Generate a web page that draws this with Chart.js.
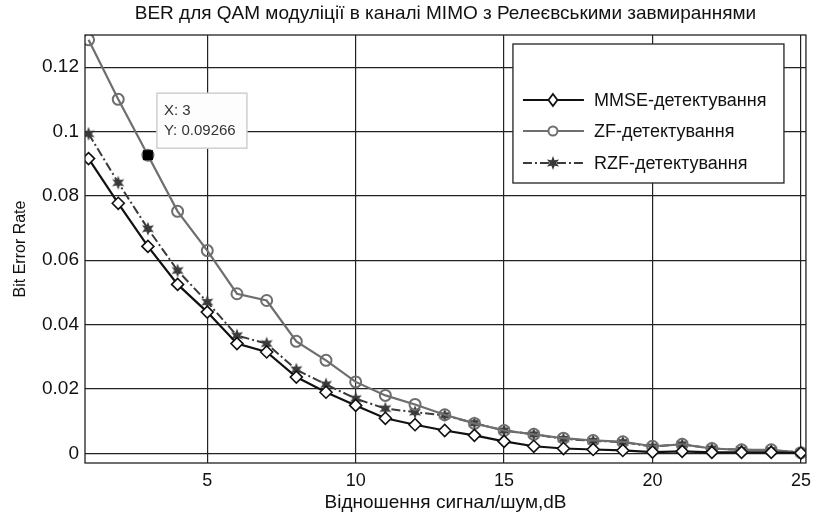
<!DOCTYPE html>
<html>
<head>
<meta charset="utf-8">
<script src="https://cdn.jsdelivr.net/npm/chart.js@4.4.1/dist/chart.umd.min.js"></script>
<style>
  html, body { margin: 0; padding: 0; background: #ffffff; }
  #wrap { width: 818px; height: 519px; }
</style>
</head>
<body>
<div id="wrap"><canvas id="c" width="818" height="519"></canvas></div>
<script>
// ---- data ----
const snrDb = [1,2,3,4,5,6,7,8,9,10,11,12,13,14,15,16,17,18,19,20,21,22,23,24,25];
const berMMSE = [0.0916,0.0777,0.0643,0.0525,0.0439,0.0341,0.0315,0.0237,0.0190,0.0149,0.0109,0.0089,0.0071,0.0056,0.0037,0.0022,0.0015,0.0012,0.0009,0.0004,0.0006,0.0003,0.0003,0.0003,0.0001];
const berZF   = [0.1285,0.1100,0.09266,0.0752,0.0630,0.0496,0.0475,0.0348,0.0289,0.0222,0.0180,0.0152,0.0120,0.0093,0.0071,0.0059,0.0047,0.0040,0.0036,0.0022,0.0028,0.0015,0.0011,0.0011,0.0002];
const berRZF  = [0.0993,0.0841,0.0698,0.0568,0.0470,0.0366,0.0341,0.0260,0.0214,0.0170,0.0139,0.0128,0.0118,0.0094,0.0071,0.0059,0.0045,0.0039,0.0035,0.0021,0.0028,0.0015,0.0011,0.0010,0.0003];
const seriesNames = ['MMSE-детектування','ZF-детектування','RZF-детектування'];
const xTicks = [5,10,15,20,25];
const yTicks = [0,0.02,0.04,0.06,0.08,0.1,0.12];
const tipX = 3, tipY = 0.09266;
const chartTitle = 'BER для QAM модуліції в каналі MIMO з Релеєвськими завмираннями';
const xTitle = 'Відношення сигнал/шум,dB';
const yTitle = 'Bit Error Rate';

const FONT = "'Liberation Sans', Arial, sans-serif";

// star marker image
function makeStar(color, R, r) {
  const s = Math.ceil(R * 2 + 2);
  const cv = document.createElement('canvas');
  cv.width = s; cv.height = s;
  const g = cv.getContext('2d');
  g.fillStyle = color;
  g.beginPath();
  const n = 6;
  for (let i = 0; i < n * 2; i++) {
    const a = -Math.PI / 2 + i * Math.PI / n;
    const rad = (i % 2 === 0) ? R : r;
    const x = s / 2 + rad * Math.cos(a), y = s / 2 + rad * Math.sin(a);
    if (i === 0) g.moveTo(x, y); else g.lineTo(x, y);
  }
  g.closePath();
  g.fill();
  return cv;
}
const starImg = makeStar('#3a3a3a', 7, 3.2);

const toPts = (ys) => snrDb.map((x, i) => ({x: x, y: ys[i]}));

const overlayPlugin = {
  id: 'overlay',
  afterDatasetsDraw(chart) {
    const ctx = chart.ctx;
    const a = chart.chartArea;
    const xs = chart.scales.x, ys = chart.scales.y;
    ctx.save();
    // frame
    ctx.strokeStyle = '#222';
    ctx.lineWidth = 1.3;
    ctx.strokeRect(a.left, a.top, a.right - a.left, a.bottom - a.top);

    // data tip
    const px = xs.getPixelForValue(tipX), py = ys.getPixelForValue(tipY);
    ctx.fillStyle = '#000';
    ctx.fillRect(px - 5, py - 5, 10, 10);
    const bx = px + 9, by = py - 62, bw = 90, bh = 55;
    ctx.fillStyle = '#fdfdfd';
    ctx.fillRect(bx, by, bw, bh);
    ctx.strokeStyle = '#cfcfcf';
    ctx.lineWidth = 1.5;
    ctx.strokeRect(bx, by, bw, bh);
    ctx.fillStyle = '#333';
    ctx.font = '15px ' + FONT;
    ctx.textAlign = 'left';
    ctx.textBaseline = 'middle';
    ctx.fillText('X: ' + tipX, bx + 7, by + 18);
    ctx.fillText('Y: ' + tipY, bx + 7, by + 38);

    // legend
    const lx = a.right - 293, ly = a.top + 9, lw = 271, lh = 139;
    ctx.fillStyle = '#fff';
    ctx.fillRect(lx, ly, lw, lh);
    ctx.strokeStyle = '#222';
    ctx.lineWidth = 1.3;
    ctx.strokeRect(lx, ly, lw, lh);
    const ds = chart.data.datasets;
    const rows = [ly + 56, ly + 87, ly + 119];
    ds.forEach((d, i) => {
      const yy = rows[i];
      ctx.save();
      ctx.strokeStyle = d.borderColor;
      ctx.lineWidth = d.borderWidth;
      ctx.setLineDash(d.borderDash || []);
      ctx.beginPath();
      ctx.moveTo(lx + 10, yy);
      ctx.lineTo(lx + 71, yy);
      ctx.stroke();
      ctx.restore();
      const mx = lx + 40;
      ctx.save();
      if (i === 0) {
        ctx.fillStyle = '#fff'; ctx.strokeStyle = d.pointBorderColor; ctx.lineWidth = 1.8;
        ctx.beginPath();
        ctx.moveTo(mx, yy - 6); ctx.lineTo(mx + 4.5, yy); ctx.lineTo(mx, yy + 6); ctx.lineTo(mx - 4.5, yy); ctx.closePath();
        ctx.fill(); ctx.stroke();
      } else if (i === 1) {
        ctx.fillStyle = '#fff'; ctx.strokeStyle = d.pointBorderColor; ctx.lineWidth = 2;
        ctx.beginPath(); ctx.arc(mx, yy, 4.5, 0, Math.PI * 2); ctx.fill(); ctx.stroke();
      } else {
        ctx.drawImage(starImg, mx - starImg.width / 2, yy - starImg.height / 2);
      }
      ctx.restore();
      ctx.fillStyle = '#111';
      ctx.font = '18px ' + FONT;
      ctx.textAlign = 'left';
      ctx.textBaseline = 'middle';
      ctx.fillText(d.label, lx + 81, yy + 1);
    });
    ctx.restore();
  }
};

new Chart(document.getElementById('c'), {
  type: 'line',
  data: {
    datasets: [
      {
        label: seriesNames[0], data: toPts(berMMSE),
        borderColor: '#111', borderWidth: 2.2,
        pointStyle: 'rectRot', pointRadius: 6, pointBorderWidth: 1.6,
        pointBackgroundColor: '#fff', pointBorderColor: '#111', tension: 0
      },
      {
        label: seriesNames[1], data: toPts(berZF),
        borderColor: '#6e6e6e', borderWidth: 2.2,
        pointStyle: 'circle', pointRadius: 5.5, pointBorderWidth: 2,
        pointBackgroundColor: 'rgba(255,255,255,0)', pointBorderColor: '#6e6e6e', tension: 0
      },
      {
        label: seriesNames[2], data: toPts(berRZF),
        borderColor: '#3a3a3a', borderWidth: 2, borderDash: [9, 3, 2, 3],
        pointStyle: starImg, pointRadius: 7,
        pointBackgroundColor: '#3a3a3a', pointBorderColor: '#3a3a3a', tension: 0
      }
    ]
  },
  options: {
    responsive: false,
    animation: false,
    events: [],
    layout: { padding: { left: 0, right: 8, top: 0, bottom: 0 } },
    plugins: {
      legend: { display: false },
      tooltip: { enabled: false },
      title: {
        display: true, text: chartTitle, color: '#111', fullSize: false,
        font: { family: FONT, size: 19, weight: 'normal' },
        padding: { top: 2, bottom: 10.2 }
      }
    },
    scales: {
      x: {
        type: 'linear', min: 0.88, max: 25.17,
        afterBuildTicks: (s) => { s.ticks = xTicks.map(v => ({value: v})); },
        afterFit: (s) => { s.height = 56; },
        grid: { color: '#222', lineWidth: 1.2, drawTicks: false },
        border: { display: false },
        ticks: { color: '#111', font: { family: FONT, size: 18 }, padding: 7, maxRotation: 0, autoSkip: false,
                 callback: (v) => String(v) },
        title: { display: true, text: xTitle, color: '#111', font: { family: FONT, size: 19 }, padding: { top: 0, bottom: 5 } }
      },
      y: {
        type: 'linear', min: -0.003, max: 0.13,
        afterBuildTicks: (s) => { s.ticks = yTicks.map(v => ({value: v})); },
        afterFit: (s) => { s.width = 85; },
        grid: { color: '#222', lineWidth: 1.2, drawTicks: false },
        border: { display: false },
        ticks: { color: '#111', font: { family: FONT, size: 19 }, padding: 6, autoSkip: false,
                 callback: (v) => String(Math.round(v * 100) / 100) },
        title: { display: true, text: yTitle, color: '#111', font: { family: FONT, size: 16 }, padding: { top: 11, bottom: 0 } }
      }
    }
  },
  plugins: [overlayPlugin]
});
</script>
</body>
</html>
